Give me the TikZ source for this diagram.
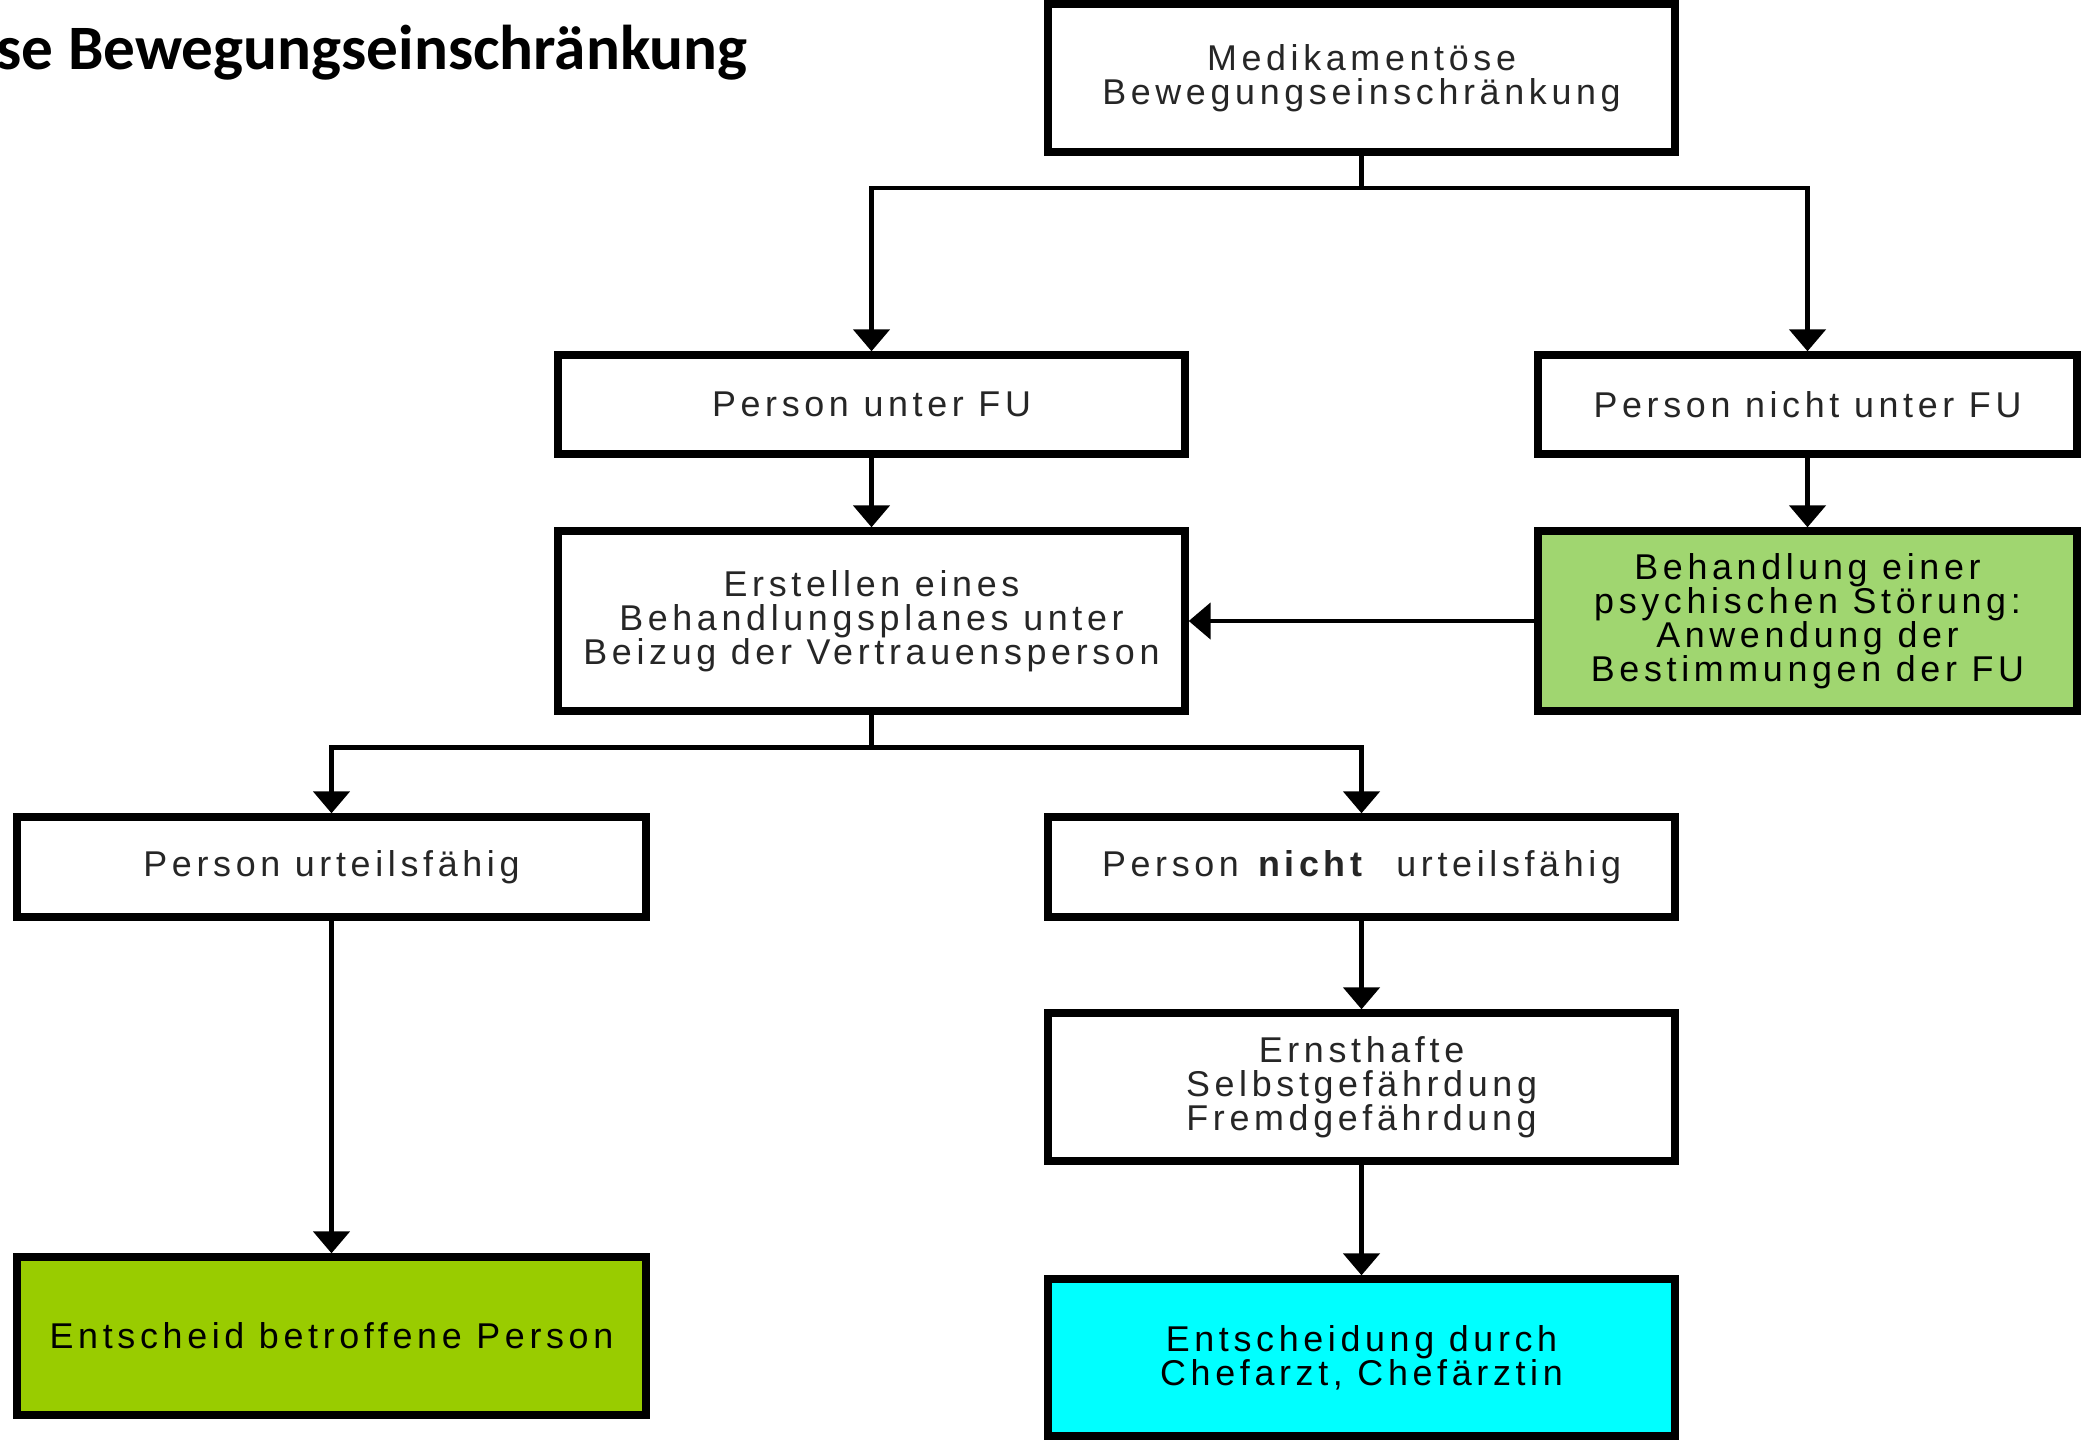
\documentclass[tikz,border=0pt]{standalone}
\usepackage{fontspec}
\setmainfont{Liberation Sans}[LetterSpace=13]
\newfontfamily\titlefont{Carlito}
\usepackage{tikz}
\usetikzlibrary{shapes.geometric, arrows.meta, positioning}
\definecolor{hellgruen}{RGB}{160,214,112}
\definecolor{olivgruen}{RGB}{153,204,0}
\definecolor{tuerkis}{RGB}{0,255,255}
\tikzstyle{process} = [rectangle, minimum width=6.27cm, minimum height=1cm, align=center, draw=black, line width=2.1pt, fill=white, text=black!85, font=\fontsize{10.2}{9.7}\selectfont, inner sep=0pt]
\tikzstyle{narrow} = [process, minimum width=5.39cm]
\tikzstyle{arrow} = [line width=1.4pt, -{Triangle[width=0.36cm, length=0.22cm]}]
\tikzstyle{connector} = [line width=1.4pt]
\begin{document}
\begin{tikzpicture}
	\useasboundingbox (0,0) rectangle (20.93,-14.40);
	\node (titel) [anchor=base west, inner sep=0pt, font=\titlefont\bfseries\fontsize{18}{20}\selectfont] at (-0.04,-0.69) {se Bewegungseinschränkung};
	\node (med) [process, minimum height=1.48cm] at (13.615,-0.78) {Medikamentöse\\Bewegungseinschränkung};
	\node (fu) [process, minimum height=0.99cm] at (8.715,-4.045) {Person unter FU};
	\node (nfu) [narrow, minimum height=0.99cm] at (18.075,-4.045) {Person nicht unter FU};
	\node (plan) [process, minimum height=1.8cm, below of=fu, node distance=2.165cm] {Erstellen eines\\Behandlungsplanes unter\\Beizug der Vertrauensperson};
	\node (stoer) [narrow, minimum height=1.8cm, fill=hellgruen, text=black, below of=nfu, node distance=2.165cm] {Behandlung einer\\psychischen Störung:\\Anwendung der\\Bestimmungen der FU};
	\node (urt) [process, minimum width=6.29cm] at (3.315,-8.67) {Person urteilsfähig};
	\node (nurt) [process] at (13.615,-8.67) {Person \textbf{nicht}\ \ urteilsfähig};
	\node (gef) [process, minimum height=1.48cm, below of=nurt, node distance=2.2cm] {Ernsthafte\\Selbstgefährdung\\Fremdgefährdung};
	\node (ent) [process, minimum width=6.29cm, minimum height=1.58cm, fill=olivgruen, text=black, below of=urt, node distance=4.69cm] {Entscheid betroffene Person};
	\node (chef) [process, minimum height=1.57cm, fill=tuerkis, text=black, below of=gef, node distance=2.705cm] {Entscheidung durch\\Chefarzt, Chefärztin};
	\coordinate (b1) at (13.615,-1.88);
	\coordinate (b2) at (8.715,-7.475);
\draw [connector] (med) -- (b1);
\draw [arrow] (b1) -| (fu);
\draw [arrow] (b1) -| (nfu);
\draw [arrow] (fu) -- (plan);
\draw [arrow] (nfu) -- (stoer);
\draw [arrow] (stoer) -- (plan);
\draw [connector] (plan) -- (b2);
\draw [arrow] (b2) -| (urt);
\draw [arrow] (b2) -| (nurt);
\draw [arrow] (urt) -- (ent);
\draw [arrow] (nurt) -- (gef);
\draw [arrow] (gef) -- (chef);
\end{tikzpicture}
\end{document}
